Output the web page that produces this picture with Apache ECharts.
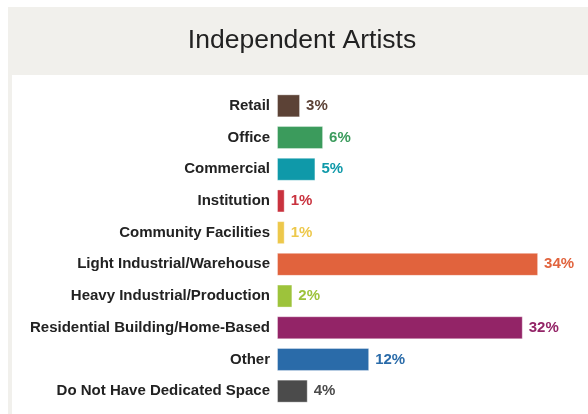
<!DOCTYPE html>
<html>
<head>
<meta charset="utf-8">
<script src="https://cdn.jsdelivr.net/npm/echarts@6/dist/echarts.min.js"></script>
<style>
  html, body { margin: 0; padding: 0; background: #ffffff; }
  #chart { width: 588px; height: 414px; }
</style>
</head>
<body>
<div id="chart"></div>
<script>
// Workspace types used by independent artists (share of respondents, %)
const categories = [
  'Retail',
  'Office',
  'Commercial',
  'Institution',
  'Community Facilities',
  'Light Industrial/Warehouse',
  'Heavy Industrial/Production',
  'Residential Building/Home-Based',
  'Other',
  'Do Not Have Dedicated Space'
];
const shares = [3, 6, 5, 1, 1, 34, 2, 32, 12, 4];
const barColors = [
  '#5c4236', '#3b9b5c', '#0f99a9', '#c9323e', '#edc84b',
  '#e1633d', '#9dc33b', '#932467', '#2a6ba9', '#4b4b4b'
];
const chartTitle = 'Independent Artists';

const chart = echarts.init(document.getElementById('chart'), null, { renderer: 'canvas' });

const FONT = '"Liberation Sans", Arial, Helvetica, sans-serif';

chart.setOption({
  animation: false,
  backgroundColor: '#ffffff',
  graphic: [
    { type: 'rect', z: -10, shape: { x: 8, y: 7, width: 580, height: 407 }, style: { fill: '#f1f0ec' } },
    { type: 'rect', z: -9, shape: { x: 12, y: 75, width: 576, height: 339 }, style: { fill: '#ffffff' } },
    {
      type: 'text', z: 5, x: 302, y: 41,
      style: {
        text: chartTitle, fill: '#222222', font: 'normal 26.5px ' + FONT,
        textAlign: 'center', textVerticalAlign: 'middle'
      }
    }
  ],
  grid: { left: 277, top: 90, width: 307.2, height: 317, containLabel: false },
  xAxis: {
    type: 'value', min: 0, max: 40,
    show: false
  },
  yAxis: {
    type: 'category',
    inverse: true,
    data: categories,
    axisLine: { show: false },
    axisTick: { show: false },
    splitLine: { show: false },
    axisLabel: {
      margin: 7,
      color: '#222222',
      fontFamily: FONT,
      fontWeight: 'bold',
      fontSize: 15
    }
  },
  series: [{
    type: 'bar',
    data: shares.map((v, i) => ({ value: v, itemStyle: { color: barColors[i] }, label: { color: barColors[i] } })),
    barWidth: 23,
    itemStyle: { borderColor: 'rgba(255,255,255,0.35)', borderWidth: 1 },
    label: {
      show: true,
      position: 'right',
      distance: 6,
      formatter: '{c}%',
      fontFamily: FONT,
      fontWeight: 'bold',
      fontSize: 15
    }
  }]
});
</script>
</body>
</html>
